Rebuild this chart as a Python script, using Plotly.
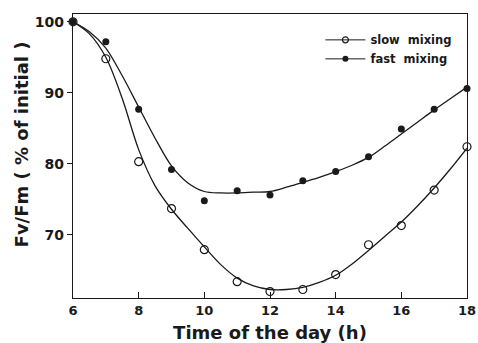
import plotly.graph_objects as go

hours = [6, 7, 8, 9, 10, 11, 12, 13, 14, 15, 16, 17, 18]
slow_mixing = [100, 94.8, 80.3, 73.7, 67.9, 63.4, 62.0, 62.3, 64.4, 68.6, 71.3, 76.3, 82.4]
fast_mixing = [100, 97.2, 87.7, 79.2, 74.8, 76.2, 75.6, 77.6, 78.9, 81.0, 84.9, 87.7, 90.6]
# fitted curves, every half hour
fit_hours = [6, 6.5, 7, 7.5, 8, 8.5, 9, 9.5, 10, 10.5, 11, 11.5, 12, 12.5,
             13, 13.5, 14, 14.5, 15, 15.5, 16, 16.5, 17, 17.5, 18]
slow_fit = [100, 98.3, 95.0, 89.2, 82.0, 76.9, 73.6, 70.9, 68.3, 65.8, 63.9, 62.8, 62.3, 62.3,
            62.6, 63.3, 64.3, 65.9, 67.8, 69.8, 71.8, 74.1, 76.6, 79.3, 82.2]
fast_fit = [100, 98.6, 96.3, 92.4, 88.0, 83.6, 79.7, 77.3, 76.1, 75.9, 75.9, 76.0, 76.1, 76.7,
            77.4, 78.1, 78.9, 79.8, 80.9, 82.5, 84.2, 85.9, 87.6, 89.2, 90.8]

xticks = [6, 8, 10, 12, 14, 16, 18]
yticks = [70, 80, 90, 100]

ink = "#1a1a1a"
fam = "DejaVu Sans, Arial, sans-serif"
fig = go.Figure()
for fit in (slow_fit, fast_fit):
    fig.add_trace(go.Scatter(x=fit_hours, y=fit, mode="lines",
                             line=dict(color=ink, width=1.3, shape="spline", smoothing=0.9),
                             showlegend=False, hoverinfo="skip"))
fig.add_trace(go.Scatter(x=hours, y=slow_mixing, mode="markers", showlegend=False,
                         marker=dict(symbol="circle-open", size=8, color=ink, line=dict(width=1.2, color=ink)),
                         cliponaxis=False))
fig.add_trace(go.Scatter(x=hours, y=fast_mixing, mode="markers", showlegend=False,
                         marker=dict(symbol="circle", size=7, color=ink),
                         cliponaxis=False))
# legend entries (line with marker through it)
fig.add_trace(go.Scatter(x=[None], y=[None], mode="lines+markers", name="slow  mixing",
                         line=dict(color=ink, width=1),
                         marker=dict(symbol="circle-open", size=6, color=ink, line=dict(width=1.2, color=ink))))
fig.add_trace(go.Scatter(x=[None], y=[None], mode="lines+markers", name="fast  mixing",
                         line=dict(color=ink, width=1),
                         marker=dict(symbol="circle", size=6, color=ink)))

fig.update_layout(
    width=478, height=343,
    margin=dict(l=73, r=11, t=14, b=45),
    paper_bgcolor="white", plot_bgcolor="white",
    font=dict(family=fam, color=ink, size=13),
    legend=dict(x=0.628, y=0.96, xanchor="left", yanchor="top", bgcolor="rgba(0,0,0,0)",
                font=dict(size=11.5, weight="bold"), itemwidth=40, tracegroupgap=0),
    showlegend=True,
    annotations=[dict(text="Fv/Fm ( % of initial )", xref="paper", yref="paper",
                      x=-0.13, y=0.54, xanchor="center", yanchor="middle", textangle=-90,
                      showarrow=False, font=dict(size=18, weight="bold", color=ink))],
)
fig.update_xaxes(range=[6, 18], tickvals=xticks, ticks="inside", ticklen=6, tickcolor=ink,
                 showline=True, linecolor=ink, linewidth=1.2, mirror=True, showgrid=False, zeroline=False,
                 tickfont=dict(size=13, weight="bold"), automargin=False,
                 title=dict(text="Time of the day (h)", font=dict(size=18, weight="bold"), standoff=14))
fig.update_yaxes(range=[61.1, 101.1], tickvals=yticks, ticks="outside", ticklen=5, tickcolor=ink,
                 showline=True, linecolor=ink, linewidth=1.2, mirror=True, showgrid=False, zeroline=False,
                 tickfont=dict(size=14, weight="bold"), automargin=False)
fig.write_html("out.html")
